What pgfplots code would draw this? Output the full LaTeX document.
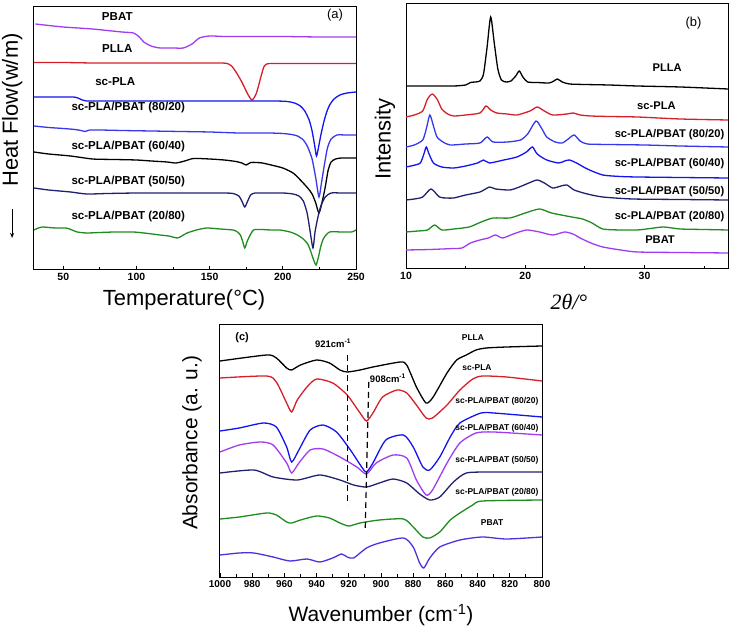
\documentclass[border=0pt]{standalone}
\usepackage{fontspec}
\setmainfont{Liberation Sans}
\newfontfamily\serifit{Liberation Serif}
\usepackage{pgfplots}
\pgfplotsset{compat=1.18}
\usetikzlibrary{arrows.meta}

\definecolor{cRed}{RGB}{212,32,40}
\definecolor{cBlue}{RGB}{20,20,240}
\definecolor{cBlueB}{RGB}{55,55,235}
\definecolor{cViolet}{RGB}{160,60,240}
\definecolor{cNavy}{RGB}{32,32,112}
\definecolor{cGreen}{RGB}{30,140,30}
\definecolor{cPBATc}{RGB}{72,52,222}

\newcommand\lab{\fontsize{11.6}{13}\selectfont\bfseries}
\newcommand\labb{\fontsize{11.2}{13}\selectfont\bfseries}
\newcommand\labc{\fontsize{8.5}{10}\selectfont\bfseries}
\newcommand\axlab{\fontsize{22}{26}\selectfont}

\pgfplotsset{
  panel/.style={
    scale only axis, anchor=south west, clip mode=individual,
    axis line style={line width=1bp},
    tick align=inside, xtick pos=lower, ytick=\empty,
    major tick length=4bp, minor tick length=3bp,
    every tick/.style={black, line width=0.9bp},
    ticklabel style={font=\fontsize{10.5}{12}\selectfont\bfseries},
    /pgf/number format/assume math mode=true,
    /pgf/number format/1000 sep={},
    every axis plot/.append style={line width=1.3bp, no marks, smooth, tension=0.4},
  }
}

\begin{document}
\begin{tikzpicture}
\path[use as bounding box] (0,0) rectangle (734bp,629bp);

% (a) DSC
\begin{axis}[panel, at={(34bp,359bp)}, width=322bp, height=263bp,
  xmin=30, xmax=250, ymin=0, ymax=263,
  xtick={50,100,150,200,250}, minor xtick={75,125,175,225},
  xlabel={Temperature(°C)}, ylabel={Heat Flow(w/m)},
  xlabel style={at={(axis description cs:0.466,-0.114)}, anchor=center, font=\axlab},
  ylabel style={at={(axis description cs:-0.068,0.608)}, anchor=center, font=\axlab},
]
\addplot[cViolet] coordinates {(31,246) (40,244.5) (50,243) (60,242) (70,241) (80,239.5) (90,238) (98,237) (102,233) (105,228) (110,224) (116,222) (125,222) (132,222) (138,226) (143,232) (150,234) (160,233.5) (170,233.5) (185,233.5) (200,233.5) (225,233) (250,233)};
\addplot[cRed] coordinates {(30,207.5) (50,207.5) (70,207) (90,207) (110,207) (130,207) (150,207) (158,207) (162,206.5) (165,204) (168,198) (172,188) (176,176) (179,170) (182,177) (185,193) (187,203) (189,206) (192,206.5) (200,206.5) (225,206.5) (250,206.5)};
\addplot[cBlue] coordinates {(30,173) (40,173) (50,173) (57,173) (60,172) (63,170) (66,169) (70,169) (80,169) (100,169) (130,169) (160,169) (180,169) (195,169) (203,168.5) (208,167) (212,164) (215,159) (218,150) (220,139) (221.7,125) (223,114) (224.3,122) (226,135) (228,148) (230,158) (232,165) (235,171) (239,175) (244,177) (250,178)};
\addplot[cBlueB] coordinates {(30,144) (40,142.5) (50,141.5) (58,140.5) (62,139.5) (65,138.5) (68,140) (75,140) (90,139.5) (110,139) (130,138.5) (150,138) (170,137) (190,137) (200,136.5) (206,135.5) (210,134) (214,130) (217,123) (220,111) (222.5,92) (224.7,73) (226.5,88) (228.5,106) (230.5,122) (233,131) (237,135) (243,135) (250,135)};
\addplot[black] coordinates {(30,118) (40,116) (55,114) (70,111) (85,110.5) (100,110) (110,109) (121,108) (127,107) (133,109) (139,111.5) (150,111) (160,110) (168,108.5) (172,107) (175,105) (178,107.5) (182,107.5) (186,107) (192,105) (200,102) (207,97) (212,90) (217,82) (220,76) (222.5,67) (224.7,57) (227,69) (229,83) (231,100) (233,108) (236,111) (240,112) (245,112) (250,112)};
\addplot[cNavy] coordinates {(30,82) (40,80) (55,78) (66,76) (80,76.5) (100,77) (116,77) (130,77) (145,77) (160,77) (166,76.5) (170,74) (172,69) (174,63) (176,69) (178,75) (181,77) (190,77) (200,77) (207,76) (211,74) (214,69) (216.6,57) (218.5,40) (220.6,22) (222,38) (224,53) (226,64) (229,73) (233,77) (240,77) (250,77)};
\addplot[cGreen] coordinates {(30,40) (33,42) (36,43) (40,42.5) (45,42) (52,42) (56,40) (59.5,38) (66,37) (75,37.5) (85,38) (98,38) (108,36.5) (116,35) (122,34) (128,32) (131,34) (134.6,37) (141,40) (148,42) (157,41) (166,40) (169,38) (171,35) (172.5,29) (174,22) (175.5,28) (177,33) (180,40) (185,40.5) (192,40) (198,40) (205,38) (210,35) (214,31) (217,26) (219,19) (220.8,11) (222.7,5) (224.5,14) (226,24) (228,32) (232,38) (240,38) (247,38) (250,40)};
\node[font=\lab] at (axis cs:86.9,253) {PBAT};
\node[font=\lab] at (axis cs:86.9,221) {PLLA};
\node[font=\lab] at (axis cs:85.5,188) {sc-PLA};
\node[font=\lab] at (axis cs:94.4,162) {sc-PLA/PBAT (80/20)};
\node[font=\lab] at (axis cs:94.4,123) {sc-PLA/PBAT (60/40)};
\node[font=\lab] at (axis cs:94.4,88) {sc-PLA/PBAT (50/50)};
\node[font=\lab] at (axis cs:94.4,53) {sc-PLA/PBAT (20/80)};
\node[font=\fontsize{13}{15}\selectfont] at (axis cs:235.7,255) {(a)};
\draw[-{Stealth[length=5bp,width=4bp]}, line width=1bp] (axis description cs:-0.068,0.232) -- (axis description cs:-0.068,0.122);
\end{axis}

% (b) XRD
\begin{axis}[panel, at={(406bp,360bp)}, width=322bp, height=265bp,
  xmin=10, xmax=37, ymin=0, ymax=265,
  xtick={10,20,30}, minor xtick={15,25,35},
  xlabel={{\serifit\itshape 2θ/°}}, ylabel={Intensity},
  xlabel style={at={(axis description cs:0.506,-0.125)}, anchor=center, font=\axlab},
  ylabel style={at={(axis description cs:-0.065,0.49)}, anchor=center, font=\axlab},
]
\addplot[black] coordinates {(10,183) (12,183) (14,183) (15,184) (15.4,186.5) (15.8,187) (16.2,188) (16.5,195) (16.8,222) (17.1,252) (17.4,226) (17.7,200) (18,189) (18.4,187) (18.8,188) (19.2,193) (19.5,198) (19.8,192) (20.2,187) (21,186.5) (22,186) (22.4,188) (22.7,190) (23.1,187) (23.7,185) (25,184.5) (27,184) (29.4,183) (33,182) (37,180)};
\addplot[cRed] coordinates {(10,152) (10.7,154) (11.4,158) (11.8,170) (12.2,175) (12.6,170) (13,160) (13.5,155) (14,153) (15,154) (16.2,156) (16.7,163) (17.1,159) (17.6,156) (18.5,155) (19.3,154) (20.4,158) (21,162) (21.6,158) (22.3,154) (23.5,155) (24,156) (24.6,154) (25.5,153) (27,152.5) (29.4,152) (33,150) (37,149)};
\addplot[cBlueB] coordinates {(10,122) (10.7,124) (11.4,129) (11.7,140) (12,154) (12.3,143) (12.6,132) (13.1,127) (13.7,124) (15,125) (16.2,126) (16.8,132) (17.3,127) (18.5,127) (19.6,129) (20.2,135) (20.9,148) (21.4,140) (21.8,132) (22.5,127) (23.1,126) (23.6,130) (24.1,134) (24.6,128) (25.2,125) (27,124.5) (30,124) (33,123) (37,122)};
\addplot[cBlue] coordinates {(10,102) (10.6,103.5) (11.2,106) (11.5,115) (11.7,122) (11.9,116) (12.3,106) (13,102) (14,101) (15,103) (16,106) (16.5,109) (17,106) (18.2,109) (19.3,112) (20.1,117) (20.6,122) (21,115) (21.8,109) (22.8,106) (23.3,108) (23.7,109) (24.3,106) (25.2,100) (26.5,94) (28,92.5) (29.4,92) (33,91.5) (37,91)};
\addplot[cNavy] coordinates {(10,69) (10.7,70) (11.4,72) (12.1,80) (12.8,72) (13.4,71) (14,71) (15,74) (16.2,77) (17,82) (17.5,80) (18.7,79) (19.5,82) (20.3,86) (21,89) (21.6,86) (22.3,81) (23,83) (23.5,84) (24.1,79) (25.2,75) (26.5,72) (29,70) (33,69.5) (37,69)};
\addplot[cGreen] coordinates {(10,37) (11,38) (11.8,39) (12.4,44) (13,39) (14,40) (15.3,42) (16.3,47) (17.3,51) (18.7,51) (20,56) (21.2,60) (22.2,56) (23.9,52) (24.8,50) (25.6,46) (26.5,40) (28,39) (29.4,39) (30.5,40.5) (31.6,42) (33,40) (35,39.5) (37,39)};
\addplot[cViolet] coordinates {(10,19) (12,19.5) (14,20.5) (14.7,21) (15.4,26) (16.2,29) (16.9,31) (17.5,34) (18.1,31) (19,35) (20.1,39) (21.2,37) (22.3,34) (23.3,37) (24,35) (24.6,31) (25.5,26) (26.5,22) (28,19) (29.4,17) (33,16.5) (37,16)};
\node[font=\labb] at (axis cs:31.9,201) {PLLA};
\node[font=\labb] at (axis cs:31.0,163) {sc-PLA};
\node[font=\labb] at (axis cs:32.1,134) {sc-PLA/PBAT (80/20)};
\node[font=\labb] at (axis cs:32.1,105) {sc-PLA/PBAT (60/40)};
\node[font=\labb] at (axis cs:32.1,77) {sc-PLA/PBAT (50/50)};
\node[font=\labb] at (axis cs:32.1,52) {sc-PLA/PBAT (20/80)};
\node[font=\labb] at (axis cs:31.3,29) {PBAT};
\node[font=\fontsize{13}{15}\selectfont] at (axis cs:34.1,246) {(b)};
\end{axis}

% (c) FTIR
\begin{axis}[panel, at={(220bp,52bp)}, width=322bp, height=252bp,
  xmin=800, xmax=1000, x dir=reverse, ymin=0, ymax=252,
  xtick={800,820,...,1000}, minor x tick num=1,
  ticklabel style={font=\fontsize{10}{12}\selectfont\bfseries},
  xlabel={Wavenumber (cm\textsuperscript{-1})}, ylabel={Absorbance (a. u.)},
  xlabel style={at={(axis description cs:0.5,-0.151)}, anchor=center, font=\fontsize{21}{25}\selectfont},
  ylabel style={at={(axis description cs:-0.087,0.532)}, anchor=center, font=\fontsize{21}{25}\selectfont},
]
\addplot[black] coordinates {(1000,216) (971,222) (965,219) (958.6,209) (955.5,207) (950,212) (940,217) (932,214) (925.5,207) (921,205) (913,207) (905,210) (888,215) (884,212) (878,190) (872,174) (867.6,180) (859,204) (853,217) (847,222) (841,227) (834.6,229) (822,230) (800,231)};
\addplot[cRed] coordinates {(1000,199) (971,201) (965,195) (958.6,174) (955.5,165) (952,177) (946,190) (940,198) (930,194) (921,182) (913,164) (909,156) (905,164) (899,180) (890,187) (884,184) (878,172) (872,159) (868,159) (859,172) (851,187) (843,198) (837,201) (822,200) (800,196)};
\addplot[cBlue] coordinates {(1000,146) (988,149) (973,154) (965,150) (958.6,130) (955.5,115) (951,127) (944,147) (936,152) (927.6,145) (919,127) (912,110) (909,105) (905,114) (897,137) (886,142) (880,130) (874,110) (869.7,107) (863.5,120) (857,140) (851,154) (838,164) (830,164) (800,160)};
\addplot[cViolet] coordinates {(1000,125) (988,132) (975,135) (967,132) (958.6,114) (955.5,104) (951,114) (944,127) (936,128) (925.5,120) (915,110) (909,103) (903,114) (892.5,122) (884,119) (878,97) (872,82) (868,87) (859,114) (851,134) (841,144) (830,145) (800,142)};
\addplot[cNavy] coordinates {(1000,104) (979,107) (967,100) (952,97) (938,102) (925.5,97) (917,92) (909,90) (901,94) (892.5,98) (884,94) (876,83) (869.7,77) (863.5,80) (855,95) (847,104) (832.5,105) (800,105)};
\addplot[cGreen] coordinates {(1000,58) (988,60) (971,64) (965,62) (958.6,55) (955.5,54) (950,57) (940,61) (932,59) (925.5,54) (920,51) (913,54) (901,57) (886,58) (880,50) (874,40) (869.7,39) (863.5,45) (857,57) (851,64) (843,72) (837,76) (800,77)};
\addplot[cPBATc] coordinates {(1000,22) (988,24) (979,24) (967,20) (956.6,16) (946,18) (938,15) (930,19) (924.5,23) (921,20) (917,19) (909,29) (901,34) (886,39) (880,30) (876,14) (873.4,9) (869.7,19) (863.5,30) (851,37) (837,40) (822,38) (800,40)};
\addplot[black, sharp plot, line width=1.2bp, dash pattern=on 6bp off 4bp] coordinates {(921,222) (921,72)};
\addplot[black, sharp plot, line width=1.2bp, dash pattern=on 6bp off 4bp] coordinates {(907.6,195) (909.8,47)};
\node[font=\fontsize{11}{13}\selectfont\bfseries] at (axis cs:986.3,239) {(c)};
\node[font=\fontsize{9.5}{11}\selectfont\bfseries] at (axis cs:929.8,234) {921cm\textsuperscript{-1}};
\node[font=\fontsize{9.5}{11}\selectfont\bfseries] at (axis cs:895.7,199) {908cm\textsuperscript{-1}};
\node[font=\labc] at (axis cs:842.9,239) {PLLA};
\node[font=\labc] at (axis cs:840.4,209) {sc-PLA};
\node[font=\labc] at (axis cs:828,176) {sc-PLA/PBAT (80/20)};
\node[font=\labc] at (axis cs:828,149) {sc-PLA/PBAT (60/40)};
\node[font=\labc] at (axis cs:828,117) {sc-PLA/PBAT (50/50)};
\node[font=\labc] at (axis cs:828,85) {sc-PLA/PBAT (20/80)};
\node[font=\labc] at (axis cs:831,54) {PBAT};
\end{axis}
\end{tikzpicture}
\end{document}
